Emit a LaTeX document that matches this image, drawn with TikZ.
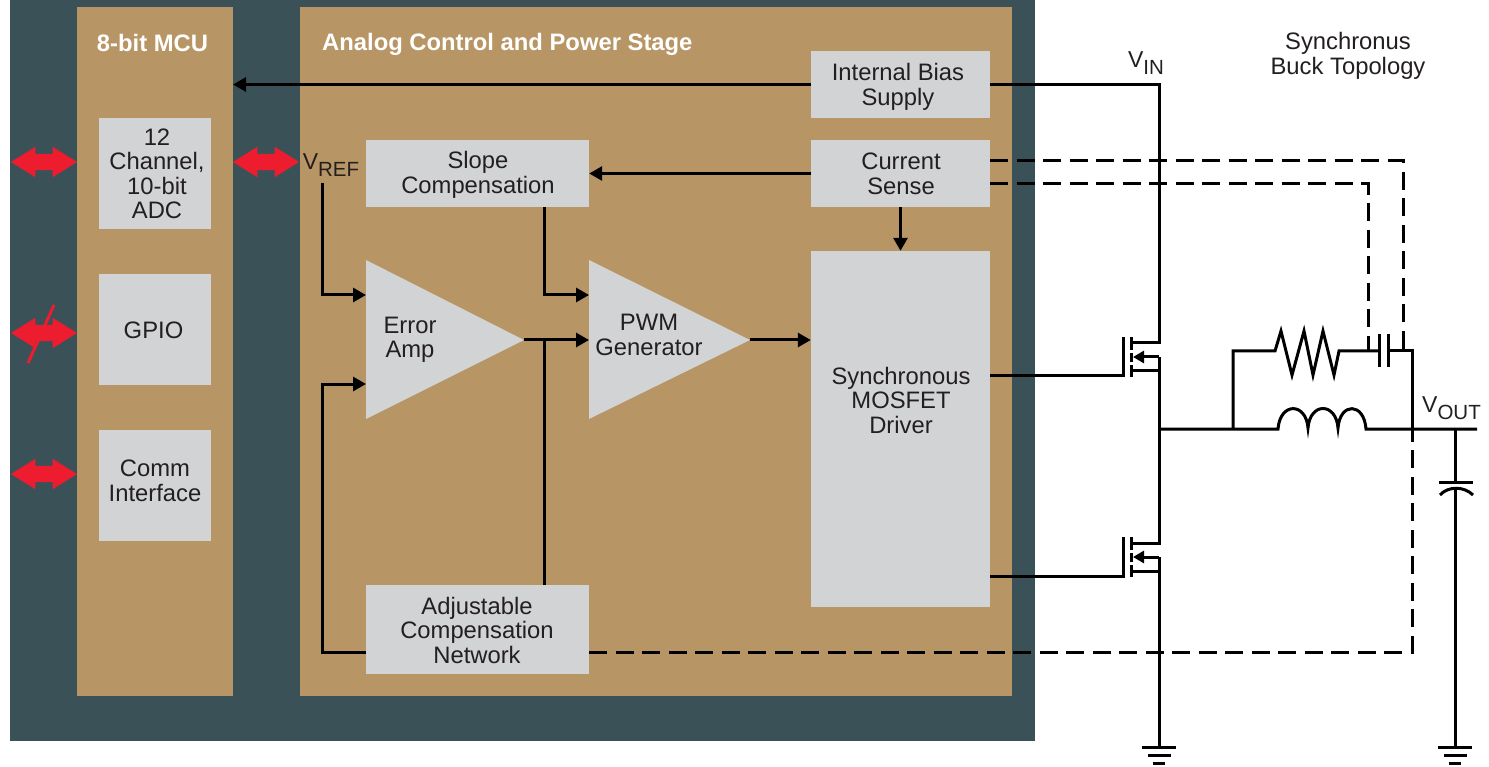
\documentclass[tikz,border=0pt]{standalone}
\usepackage{fontspec}
\setmainfont{Liberation Sans}
\usetikzlibrary{arrows.meta,shapes.arrows,calc}
\definecolor{slateblue}{HTML}{3B5158}
\definecolor{tan}{HTML}{B89565}
\definecolor{greybox}{HTML}{D1D3D4}
\definecolor{redarrow}{HTML}{ED1C2E}
\definecolor{ink}{HTML}{231F20}
\newcommand{\Vsub}[1]{{\fontsize{23}{24}\selectfont V}\raisebox{-0.28em}{\fontsize{20.5}{20.5}\selectfont #1}}
\tikzset{
  x=1pt,y=-1pt,
  txt/.style={font=\fontsize{23.8}{24.5}\selectfont,text=ink,align=center,inner sep=0pt},
  panel/.style={fill=tan,inner sep=0pt,anchor=north west},
  bluebox/.style={fill=greybox,inner sep=0pt,anchor=center},
  title/.style={font=\fontsize{23.8}{24.5}\bfseries\selectfont,text=white,inner sep=0pt},
  wire/.style={draw=black,line width=3pt,line join=miter},
  flow/.style={wire,-{Triangle[length=13pt,width=14pt]}},
  smalltip/.style={wire,-{Triangle[length=11pt,width=12pt]}},
  dashwire/.style={draw=black,line width=3pt,dash pattern=on 18pt off 8.5pt},
  redarrow shape/.style={double arrow,fill=redarrow,draw=none,inner xsep=0pt,inner ysep=8pt,minimum width=30pt,minimum height=66pt,double arrow head extend=7pt,double arrow tip angle=64},
}
\begin{document}
\begin{tikzpicture}
\useasboundingbox (0,0) rectangle (1489,767);
\fill[white] (0,0) rectangle (1489,767);
\node[fill=slateblue,inner sep=0pt,anchor=north west,minimum width=1025pt,minimum height=741pt] (bg) at (10,0) {};
\node[panel,minimum width=156pt,minimum height=689pt] (mcu) at (77,7) {};
\node[panel,minimum width=712pt,minimum height=689pt] (analog) at (300,7) {};
\node[title] (mcutitle) at (152.5,43) {8-bit MCU};
\node[title,anchor=west] (analogtitle) at (322,44) {Analog Control and Power Stage};

% MCU blocks
\node[bluebox,minimum width=112pt,minimum height=111pt] (adc) at (155,173.5) {};
\node[txt] (adctext) at (157,174) {12\\Channel,\\10-bit\\ADC};
\node[bluebox,minimum width=112pt,minimum height=111pt] (gpio) at (155,329.5) {};
\node[txt] (gpiotext) at (153.5,330) {GPIO};
\node[bluebox,minimum width=112pt,minimum height=111pt] (comm) at (155,485.5) {};
\node[txt] (commtext) at (155,481) {Comm\\Interface};

% Analog blocks
\node[bluebox,minimum width=179pt,minimum height=67pt] (bias) at (900.5,84.5) {};
\node[txt] (biastext) at (898,87) {Internal Bias\\Supply};
\node[bluebox,minimum width=179pt,minimum height=67pt] (sense) at (900.5,173.5) {};
\node[txt] (sensetext) at (901,174) {Current\\Sense};
\node[bluebox,minimum width=223pt,minimum height=67pt] (slope) at (477.5,173.5) {};
\node[txt] (slopetext) at (478,175) {Slope\\Compensation};
\node[bluebox,minimum width=179pt,minimum height=356pt] (driver) at (900.5,429) {};
\node[txt] (drivertext) at (901,400) {Synchronous\\MOSFET\\Driver};
\node[bluebox,minimum width=223pt,minimum height=89pt] (adj) at (477.5,629.5) {};
\node[txt] (adjtext) at (477,630) {Adjustable\\Compensation\\Network};

% Triangles
\coordinate (errtop) at (366,260); \coordinate (errbot) at (366,419); \coordinate (errtip) at (524,340);
\coordinate (pwmtop) at (589,260); \coordinate (pwmbot) at (589,419); \coordinate (pwmtip) at (750,340);
\fill[greybox] (errtop) -- (errbot) -- (errtip) -- cycle;
\fill[greybox] (pwmtop) -- (pwmbot) -- (pwmtip) -- cycle;
\node[txt] (errtext) at (410,340) {Error\\Amp};
\node[txt] (pwmtext) at (649,335) {PWM\\Generator};

% Red arrows
\node[redarrow shape] (a1) at (44,162) {};
\node[redarrow shape] (a2) at (44,333) {};
\node[redarrow shape] (a3) at (44,474) {};
\node[redarrow shape] (a4) at (266,162) {};
\coordinate (slashA) at (54,305); \coordinate (slashB) at (28,363);
\draw[redarrow,line width=3pt] (slashA) -- (slashB);

% Labels
\node[txt] (vref) at (331,165) {\Vsub{REF}};
\node[txt] (vin) at (1146,63) {\Vsub{IN}};
\node[txt] (vout) at (1451.5,408) {\Vsub{OUT}};
\node[txt] (topo) at (1348,56) {Synchronus\\Buck Topology};

% Control connectors
\coordinate (mcuin) at (233,84.5);
\draw[flow] (bias.west) -- (mcuin);
\draw[flow] (sense.west) -- (slope.east);
\draw[flow] (sense.south) -- (driver.north);
\coordinate (slopeout) at (544,207); \coordinate (pwmin1) at (589,295);
\draw[flow] (slopeout) |- (pwmin1);
\coordinate (vrefout) at (322,183); \coordinate (errin1) at (366,295);
\draw[flow] (vrefout) |- (errin1);
\coordinate (adjout) at (366,652); \coordinate (errin2) at (366,384);
\draw[flow] (adjout) -| (322,518) |- (errin2);
\draw[flow] (errtip) -- (pwmtop |- errtip);
\coordinate (adjfb) at (544,585);
\draw[wire] (adjfb) -- (adjfb |- errtip);
\draw[flow] (pwmtip) -- (driver.west |- pwmtip);

% Power rail
\coordinate (biasR) at (990,84.5);
\coordinate (swnode) at (1159,429);
\coordinate (gndA) at (1159,747);
\coordinate (q1d) at (1159,343); \coordinate (q1s) at (1159,357); \coordinate (q1b) at (1159,370);
\coordinate (q2d) at (1159,543); \coordinate (q2s) at (1159,557); \coordinate (q2b) at (1159,571);
\draw[wire] (biasR) -| (q1d) -- (1131,343);
\draw[wire] (1131,370) -- (q1b) -- (q1s);
\draw[smalltip] (q1s) -- (1133,357);
\draw[wire] (q1b) -- (swnode) -- (q2d) -- (1131,543);
\draw[wire] (1131,571) -- (q2b) -- (q2s);
\draw[smalltip] (q2s) -- (1133,557);
\draw[wire] (q2b) -- (gndA);
% MOSFET gates
\coordinate (g1) at (990,375.5); \coordinate (g2) at (990,576);
\draw[wire] (g1) -- (1123,375.5) -- (1123,337);
\draw[wire] (g2) -- (1123,576) -- (1123,537);
\draw[wire] (1131,337) -- (1131,350) (1131,353) -- (1131,362) (1131,365) -- (1131,377);
\draw[wire] (1131,537) -- (1131,550) (1131,553) -- (1131,562) (1131,565) -- (1131,577);

% Output filter
\coordinate (j1) at (1233,429); \coordinate (j2) at (1412,429); \coordinate (outend) at (1477,429);
\draw[wire] (swnode) -- (1278,429)
  .. controls (1280,402) and (1306,402) .. (1308,428)
  .. controls (1310,402) and (1336,402) .. (1338,428)
  .. controls (1340,402) and (1364,402) .. (1366,429)
  -- (outend);
\draw[wire] (j1) -- (1233,351) -- (1275,351) -- (1281,331) -- (1292,375) -- (1304,331) -- (1313,375) -- (1323,331) -- (1334,375) -- (1339,351) -- (1379,351);
\draw[wire] (1379,334) -- (1379,367);
\draw[wire] (1388,334) -- (1388,367);
\draw[wire] (1388,351) -- (1412,351) -- (j2);

% Output capacitor
\coordinate (capjoin) at (1455,429); \coordinate (gndB) at (1455,747);
\draw[wire] (capjoin) -- (1455,482);
\draw[wire] (1439,482) -- (1473,482);
\draw[wire] (1440,495) .. controls (1448,486) and (1464,486) .. (1473,495);
\draw[wire] (1455,489) -- (gndB);

% Grounds
\foreach \g in {gndA,gndB}{
  \draw[wire] ($(\g)+(-17,0)$) -- ($(\g)+(17,0)$);
  \draw[wire] ($(\g)+(-11,8)$) -- ($(\g)+(12,8)$);
  \draw[wire] ($(\g)+(-6,16)$) -- ($(\g)+(6,16)$);
}

% Dashed sense lines
\coordinate (s1) at (990,161); \coordinate (s2) at (990,184);
\draw[dashwire] (s1) -- (1403,161) -- (1403,351);
\draw[dashwire] (s2) -- (1368,184) -- (1368,351);
\coordinate (adjE) at (589,652);
\draw[dashwire] (adjE) -- (1412,652) -- (j2);
\end{tikzpicture}
\end{document}
